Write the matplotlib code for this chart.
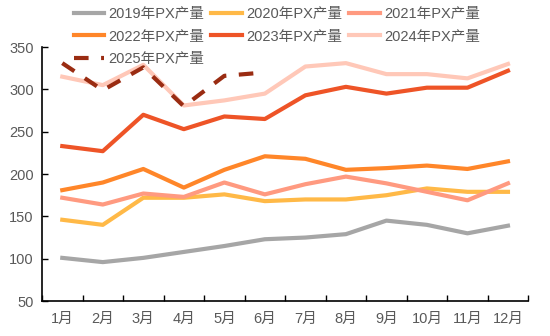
import numpy as np
import matplotlib
matplotlib.use("Agg")
import matplotlib.pyplot as plt

plt.rcParams['font.family'] = ['Liberation Sans', 'Noto Sans CJK SC', 'DejaVu Sans']

months = ['1月', '2月', '3月', '4月', '5月', '6月', '7月', '8月', '9月', '10月', '11月', '12月']

px_2019 = [101, 96, 101, 108, 115, 123, 125, 129, 145, 140, 130, 139]
px_2020 = [146, 140, 172, 172, 176, 168, 170, 170, 175, 183, 179, 179]
px_2021 = [172, 164, 177, 173, 190, 176, 188, 197, 189, 179, 169, 189]
px_2022 = [181, 190, 206, 184, 205, 221, 218, 205, 207, 210, 206, 215]
px_2023 = [233, 227, 270, 253, 268, 265, 293, 303, 295, 302, 302, 322]
px_2024 = [315, 305, 329, 281, 287, 295, 327, 331, 318, 318, 313, 330]
px_2025 = [331, 299, 326, 280, 316, 320]

series = [
    ('2019年PX产量', px_2019, '#A6A6A6', '-'),
    ('2020年PX产量', px_2020, '#FFB947', '-'),
    ('2021年PX产量', px_2021, '#FF9A80', '-'),
    ('2022年PX产量', px_2022, '#FF8629', '-'),
    ('2023年PX产量', px_2023, '#EE5427', '-'),
    ('2024年PX产量', px_2024, '#FFC8B8', '-'),
    ('2025年PX产量', px_2025, '#9A2C12', (0, (3.5, 3))),
]

fig = plt.figure(figsize=(5.5, 3.36), dpi=100)
ax = fig.add_axes([0.0764, 0.104, 0.884, 0.756])

text_color = '#595959'
lines = []
for name, vals, color, ls in series:
    x = np.arange(len(vals))
    ln, = ax.plot(x, vals, color=color, lw=3, linestyle=ls, label=name)
    lines.append(ln)

ax.set_xlim(-0.5, 11.5)
ax.set_ylim(50, 350)
ax.set_yticks(np.arange(50, 351, 50))
ax.set_xticks(np.arange(12))
ax.set_xticklabels(months)
ax.set_xticks(np.arange(-0.5, 12, 1), minor=True)
ax.tick_params(axis='x', which='major', length=0, pad=8, labelsize=10.5, labelcolor=text_color)
ax.tick_params(axis='x', which='minor', direction='in', length=4, width=1)
ax.tick_params(axis='y', direction='in', length=4, width=1, labelsize=10.5, labelcolor=text_color, pad=6)

for s in ['top', 'right']:
    ax.spines[s].set_visible(False)
for s in ['left', 'bottom']:
    ax.spines[s].set_linewidth(1.2)

# matplotlib fills legend column by column; reorder so rows read by year
order = [0, 3, 6, 1, 4, 2, 5]
handles = [lines[i] for i in order]
fig.legend(handles, [h.get_label() for h in handles], loc='upper left',
           bbox_to_anchor=(0.11, 1.018), ncol=3, frameon=False,
           fontsize=10.5, handlelength=2.1, handletextpad=0.3, columnspacing=0.45,
           labelspacing=0.58, labelcolor=text_color)

fig.savefig('out.png', dpi=100)
